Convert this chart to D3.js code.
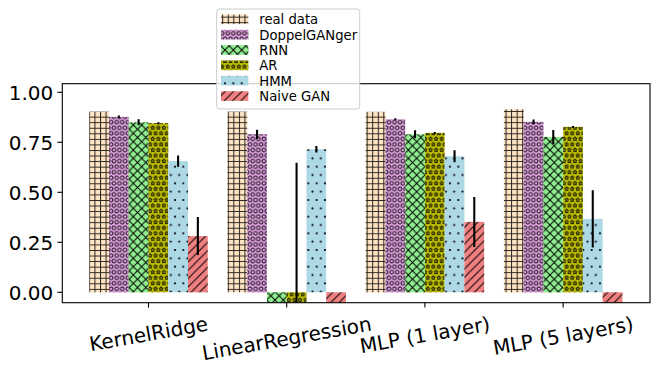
<!DOCTYPE html>
<html><head><meta charset="utf-8">
<script src="https://cdn.jsdelivr.net/npm/d3@7"></script>
<style>body{margin:0;background:#fff}svg{display:block}text{font-family:"DejaVu Sans",sans-serif}</style>
</head><body><svg id="c" width="664" height="370"></svg>
<script>
// ---- data ----
const categories = ["KernelRidge", "LinearRegression", "MLP (1 layer)", "MLP (5 layers)"];
const seriesNames = ["real data", "DoppelGANger", "RNN", "AR", "HMM", "Naive GAN"];
const realData      = [0.903, 0.903, 0.902, 0.915];
const realDataErr   = [0, 0, 0, 0];
const doppelGANger  = [0.877, 0.790, 0.865, 0.852];
const doppelErr     = [0.007, 0.023, 0.005, 0.012];
const rnn           = [0.850, -0.600, 0.790, 0.777];
const rnnErr        = [0.015, 0.300, 0.020, 0.035];
const ar            = [0.845, -0.900, 0.797, 0.827];
const arErr         = [0.005, 1.548, 0.005, 0.005];
const hmm           = [0.656, 0.715, 0.680, 0.367];
const hmmErr        = [0.028, 0.016, 0.030, 0.143];
const naiveGAN      = [0.281, -0.800, 0.352, -0.800];
const naiveErr      = [0.095, 0.200, 0.125, 0.200];
const yTicks = [0.00, 0.25, 0.50, 0.75, 1.00];

const values = [realData, doppelGANger, rnn, ar, hmm, naiveGAN];
const errors = [realDataErr, doppelErr, rnnErr, arErr, hmmErr, naiveErr];
const colors = ["#ffe4c4", "#dda0dd", "#90ee90", "#bfbf00", "#add8e6", "#f08080"];
const hatchIds = ["hPlus", "hCirc", "hX", "hStar", "hDot", "hSlash"];

// ---- layout ----
const svg = d3.select("#c");
const L = 62.3, R = 650, T = 83.7, B = 302.7;
const barW = 1 / 7;
const x = d3.scaleLinear().domain([-0.195, 4.057]).range([L, R]);
const y = d3.scaleLinear().domain([-0.052, 1.043]).range([B, T]);

// ---- hatch patterns ----
const defs = svg.append("defs");
function pat(id, w, h) {
  return defs.append("pattern").attr("id", id).attr("patternUnits", "userSpaceOnUse")
    .attr("width", w).attr("height", h);
}
const s1 = 100 / 18, s2 = 100 / 12;
let p = pat("hPlus", s1, s1);
p.append("path").attr("d", `M0,0.5H${s1}M0.5,0V${s1}`).attr("stroke", "#000").attr("stroke-width", 1).attr("fill", "none").attr("opacity", 0.85);
p = pat("hCirc", s1, 2 * s1);
[[0,0],[s1,0],[0,2*s1],[s1,2*s1],[s1/2,s1]].forEach(([cx,cy]) =>
  p.append("circle").attr("cx", cx).attr("cy", cy).attr("r", 1.9).attr("fill", "none").attr("stroke", "#000").attr("stroke-width", 0.9));
p = pat("hX", s2, s2);
p.append("path").attr("d", `M0,0L${s2},${s2}M0,${s2}L${s2},0`).attr("stroke", "#000").attr("stroke-width", 1).attr("fill", "none");
p = pat("hStar", s1, 2 * s1);
const starPath = (cx, cy, r) => {
  let d = "";
  for (let k = 0; k < 10; k++) {
    const rr = k % 2 === 0 ? r : r * 0.45;
    const a = -Math.PI / 2 + k * Math.PI / 5;
    d += (k === 0 ? "M" : "L") + (cx + rr * Math.cos(a)).toFixed(2) + "," + (cy + rr * Math.sin(a)).toFixed(2);
  }
  return d + "Z";
};
[[0,0],[s1,0],[0,2*s1],[s1,2*s1],[s1/2,s1]].forEach(([cx,cy]) =>
  p.append("path").attr("d", starPath(cx, cy, 2.1)).attr("fill", "none").attr("stroke", "#000").attr("stroke-width", 0.9));
p = pat("hDot", s2, 2 * s2);
[[0,0],[s2,0],[0,2*s2],[s2,2*s2],[s2/2,s2]].forEach(([cx,cy]) =>
  p.append("circle").attr("cx", cx).attr("cy", cy).attr("r", 1.1).attr("fill", "#000"));
p = pat("hSlash", s2, s2);
p.append("path").attr("d", `M0,${s2}L${s2},0M${-s2/2},${s2/2}L${s2/2},${-s2/2}M${s2/2},${s2*1.5}L${s2*1.5},${s2/2}`).attr("stroke", "#000").attr("stroke-width", 1).attr("fill", "none");

defs.append("clipPath").attr("id", "plotClip").append("rect")
  .attr("x", L).attr("y", T).attr("width", R - L).attr("height", B - T);

// ---- bars ----
const plot = svg.append("g").attr("clip-path", "url(#plotClip)");
values.forEach((vals, j) => {
  const g = plot.append("g");
  vals.forEach((v, i) => {
    const x0 = x(i + j * barW), x1 = x(i + (j + 1) * barW);
    const yTop = y(Math.max(v, 0)), yBot = y(Math.min(v, 0));
    g.append("rect").attr("x", x0).attr("y", yTop).attr("width", x1 - x0).attr("height", yBot - yTop).attr("fill", colors[j]);
    g.append("rect").attr("x", x0).attr("y", yTop).attr("width", x1 - x0).attr("height", yBot - yTop).attr("fill", `url(#${hatchIds[j]})`);
  });
});
values.forEach((vals, j) => {
  vals.forEach((v, i) => {
    const e = errors[j][i];
    if (e <= 0) return;
    const cx = x(i + (j + 0.5) * barW);
    plot.append("line").attr("x1", cx).attr("x2", cx).attr("y1", y(v - e)).attr("y2", y(v + e))
      .attr("stroke", "#000").attr("stroke-width", 2.08);
  });
});

// ---- axes frame ----
svg.append("rect").attr("x", L).attr("y", T).attr("width", R - L).attr("height", B - T)
  .attr("fill", "none").attr("stroke", "#000").attr("stroke-width", 1.1);

// y ticks
const yFont = 20;
const yt = svg.append("g");
yTicks.forEach(t => {
  const yy = y(t);
  yt.append("line").attr("x1", L - 4.9).attr("x2", L).attr("y1", yy).attr("y2", yy).attr("stroke", "#000").attr("stroke-width", 1.1);
  yt.append("text").attr("x", L - 9).attr("y", yy + 0.365 * yFont).attr("text-anchor", "end").attr("font-size", yFont).attr("fill", "#000")
    .text(d3.format(".2f")(t));
});

// x ticks (at group centres)
const xFont = 20;
const xt = svg.append("g");
const ang = 10 * Math.PI / 180;
categories.forEach((c, i) => {
  const tx = x(i + 3 * barW);
  xt.append("line").attr("x1", tx).attr("x2", tx).attr("y1", B).attr("y2", B + 4.9).attr("stroke", "#000").attr("stroke-width", 1.1);
  const t = xt.append("text").attr("text-anchor", "middle").attr("font-size", xFont).attr("fill", "#000").text(c);
  const bb = t.node().getBBox();
  const w = bb.width, h = bb.height;
  const H = w * Math.sin(ang) + h * Math.cos(ang);
  const cy = B + 9 + H / 2;
  const off = -(bb.y + h / 2);
  t.attr("transform", `translate(${tx},${cy}) rotate(-10)`).attr("y", off);
});

// ---- legend ----
const lg = svg.append("g");
const lx = 216.7, ly = 9, lw = 143, lh = 100;
lg.append("rect").attr("x", lx).attr("y", ly).attr("width", lw).attr("height", lh).attr("rx", 2.6)
  .attr("fill", "#fff").attr("fill-opacity", 0.8).attr("stroke", "#cccccc").attr("stroke-width", 1);
seriesNames.forEach((n, j) => {
  const cy = 19.3 + j * 15.35;
  lg.append("rect").attr("x", 221).attr("y", cy - 4.8).attr("width", 27.3).attr("height", 9.6).attr("fill", colors[j]);
  lg.append("rect").attr("x", 221).attr("y", cy - 4.8).attr("width", 27.3).attr("height", 9.6).attr("fill", `url(#${hatchIds[j]})`);
  lg.append("text").attr("x", 259.3).attr("y", cy + 5).attr("font-size", 13.2).attr("fill", "#000").text(n);
});
</script></body></html>
